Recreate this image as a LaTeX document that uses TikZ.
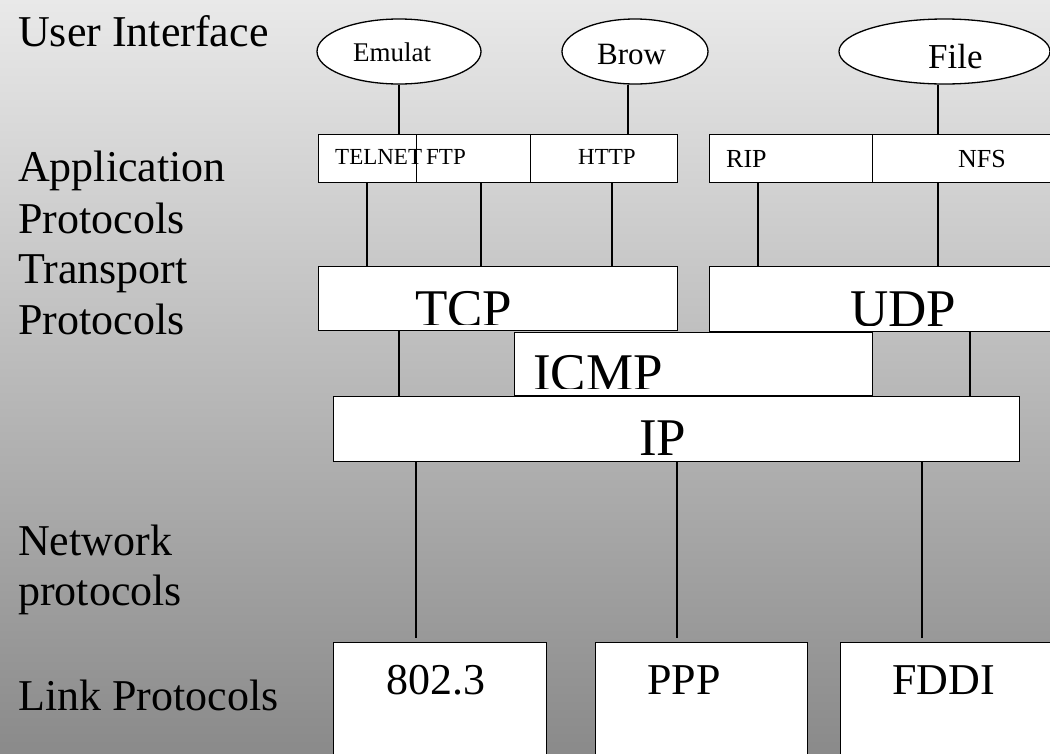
\documentclass[tikz,border=0pt]{standalone}
\usepackage{fontspec}
\setmainfont{Liberation Serif}
\usetikzlibrary{shapes.geometric}
\newcommand\setpx[1]{\fontsize{#1}{#1}\selectfont}
\definecolor{bgtop}{RGB}{233,233,233}
\definecolor{bgbot}{RGB}{138,138,138}
\begin{document}
\begin{tikzpicture}[x=1pt,y=-1pt,
  wire/.style={line width=1.3pt, draw=black},
  box/.style={draw=black, line width=1.3pt, fill=white, rectangle,
    inner sep=0pt, anchor=north west},
  oval/.style={draw=black, line width=1.3pt, fill=white, ellipse, inner sep=0pt},
  txt/.style={anchor=base west, inner sep=0pt, text=black},
  layer/.style={txt, font=\setpx{44}},
  small/.style={txt, font=\setpx{23}},
  mid/.style={txt, font=\setpx{26}},
  big/.style={txt, font=\setpx{53}},
  link/.style={txt, font=\setpx{44}}
]
\useasboundingbox (0,0) rectangle (1050,753);
\clip (0,0) rectangle (1050,753);
\fill[top color=bgtop, bottom color=bgbot] (0,0) rectangle (1050,753);

% layer captions
\node[layer] (lblUI)   at (18,46)  {User Interface};
\node[layer] (lblApp)  at (18,181) {Application};
\node[layer] (lblAppP) at (18,233) {Protocols};
\node[layer] (lblTr)   at (18,283) {Transport};
\node[layer] (lblTrP)  at (18,334) {Protocols};
\node[layer] (lblNet)  at (18,555) {Network};
\node[layer] (lblNetP) at (18,605) {protocols};
\node[layer] (lblLink) at (18,710) {Link Protocols};

% user programs
\node[oval, minimum width=164pt, minimum height=65pt] (emul) at (399,51.5) {};
\node[oval, minimum width=146pt, minimum height=65pt] (brow) at (635,51.5) {};
\node[oval, minimum width=211pt, minimum height=65pt] (file) at (944.5,51.5) {};
\node[txt, font=\setpx{27}] (emulT) at (353,61) {Emulat};
\node[txt, font=\setpx{31}] (browT) at (597,64) {Brow};
\node[txt, font=\setpx{35}] (fileT) at (928,68) {File};

% application protocols
\node[box, minimum width=98pt,  minimum height=48pt] (telnet) at (318,134) {};
\node[box, minimum width=114pt, minimum height=48pt] (ftp)    at (416,134) {};
\node[box, minimum width=147pt, minimum height=48pt] (http)   at (530,134) {};
\node[box, minimum width=163pt, minimum height=48pt] (rip)    at (709,134) {};
\node[box, minimum width=190pt, minimum height=48pt] (nfs)    at (872,134) {};
\node[small] (telnetT) at (335,164) {TELNET};
\node[small] (ftpT)    at (426,164) {FTP};
\node[small] (httpT)   at (578,164) {HTTP};
\node[mid]   (ripT)    at (726,167) {RIP};
\node[mid]   (nfsT)    at (958,167) {NFS};

% transport, ICMP and IP
\node[box, minimum width=359pt, minimum height=64pt] (tcp)  at (318,266) {};
\node[box, minimum width=350pt, minimum height=65pt] (udp)  at (709,266) {};
\node[box, minimum width=358pt, minimum height=63pt] (icmp) at (514,332) {};
\node[box, minimum width=686pt, minimum height=65pt] (ip)   at (333,396) {};
\begin{scope}
  \clip (tcp.north west) rectangle ([yshift=7pt]tcp.south east);
  \node[big] (tcpT) at (415,326) {TCP};
\end{scope}
\begin{scope}
  \clip (udp.north west) rectangle ([yshift=7pt]udp.south east);
  \node[big] (udpT) at (850,326) {UDP};
\end{scope}
\begin{scope}
  \clip (icmp.north west) rectangle ([yshift=8pt]icmp.south east);
  \node[big] (icmpT) at (533,390) {ICMP};
\end{scope}
\begin{scope}
  \clip (ip.north west) rectangle ([yshift=8pt]ip.south east);
  \node[big] (ipT) at (639,455) {IP};
\end{scope}

% link protocols
\node[box, minimum width=213pt, minimum height=130pt] (eth)  at (333,642) {};
\node[box, minimum width=212pt, minimum height=130pt] (ppp)  at (595,642) {};
\node[box, minimum width=220pt, minimum height=130pt] (fddi) at (840,642) {};
\node[link] (ethT)  at (386,694) {802.3};
\node[link] (pppT)  at (647,694) {PPP};
\node[link] (fddiT) at (892,694) {FDDI};

% connectors
\draw[wire] (emul.south) -- (emul.south |- telnet.north);
\draw[wire] (brow.south -| 628,0) -- (http.north -| 628,0);
\draw[wire] (file.south -| 938,0) -- (nfs.north -| 938,0);

\draw[wire] (telnet.south -| 367,0) -- (tcp.north -| 367,0);
\draw[wire] (ftp.south -| 481,0)    -- (tcp.north -| 481,0);
\draw[wire] (http.south -| 612,0)   -- (tcp.north -| 612,0);
\draw[wire] (rip.south -| 758,0)    -- (udp.north -| 758,0);
\draw[wire] (nfs.south -| 938,0)    -- (udp.north -| 938,0);

\draw[wire] (tcp.south -| 399,0) -- (ip.north -| 399,0);
\draw[wire] (udp.south -| 970,0) -- (ip.north -| 970,0);

\draw[wire, shorten >=4pt] (ip.south -| 416,0) -- (eth.north -| 416,0);
\draw[wire, shorten >=4pt] (ip.south -| 677,0) -- (ppp.north -| 677,0);
\draw[wire, shorten >=4pt] (ip.south -| 922,0) -- (fddi.north -| 922,0);
\end{tikzpicture}
\end{document}
